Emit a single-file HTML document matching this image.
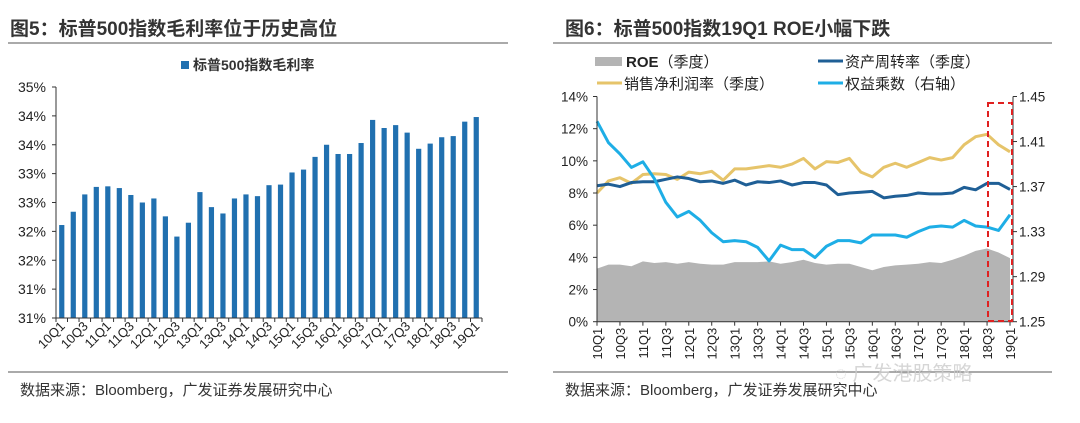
<!DOCTYPE html>
<html><head><meta charset="utf-8">
<style>
html,body{margin:0;padding:0;background:#fff;}
body{width:1080px;height:418px;overflow:hidden;font-family:"Liberation Sans","Noto Sans CJK SC",sans-serif;}
svg text{font-family:"Liberation Sans","Noto Sans CJK SC",sans-serif;}
</style></head>
<body>
<svg id="c" width="1080" height="418" viewBox="0 0 1080 418">
  <text x="10" y="35" font-size="19" font-weight="bold" fill="#333">图5：标普500指数毛利率位于历史高位</text>
  <line x1="8" y1="43" x2="508" y2="43" stroke="#555" stroke-width="1"/>
  <text x="565" y="35" font-size="19" font-weight="bold" fill="#333">图6：标普500指数19Q1 ROE小幅下跌</text>
  <line x1="553" y1="43" x2="1052" y2="43" stroke="#555" stroke-width="1"/>
  <line x1="8" y1="372" x2="508" y2="372" stroke="#555" stroke-width="1"/>
  <line x1="553" y1="372" x2="1052" y2="372" stroke="#555" stroke-width="1"/>
  <text x="20" y="395" font-size="15" fill="#333">数据来源：Bloomberg，广发证券发展研究中心</text>
  <text x="565" y="395" font-size="15" fill="#333">数据来源：Bloomberg，广发证券发展研究中心</text>
  <text x="835" y="380" font-size="20" fill="#ccc" opacity="0.8">◌ 广发港股策略</text>

  <g>
    <rect x="181" y="61" width="8" height="8" fill="#2070b0"/>
    <text x="193" y="70" font-size="14" font-weight="bold" fill="#333">标普500指数毛利率</text>
  </g>
  <g>
    <rect x="595" y="57" width="27" height="9" fill="#b4b4b4"/>
    <text x="626" y="67" font-size="15" fill="#222"><tspan font-weight="bold">ROE</tspan>（季度）</text>
    <line x1="818" y1="61" x2="843" y2="61" stroke="#1f5f96" stroke-width="3"/>
    <text x="845" y="67" font-size="15" fill="#222">资产周转率（季度）</text>
    <line x1="597" y1="83" x2="622" y2="83" stroke="#e6c46a" stroke-width="3"/>
    <text x="624" y="89" font-size="15" fill="#222">销售净利润率（季度）</text>
    <line x1="818" y1="83" x2="843" y2="83" stroke="#1eaee6" stroke-width="3"/>
    <text x="845" y="89" font-size="15" fill="#222">权益乘数（右轴）</text>
  </g>
  <g id="left"></g>
  <g id="right"></g>
</svg>
<script>
const quarters = ["10Q1","10Q2","10Q3","10Q4","11Q1","11Q2","11Q3","11Q4","12Q1","12Q2","12Q3","12Q4","13Q1","13Q2","13Q3","13Q4","14Q1","14Q2","14Q3","14Q4","15Q1","15Q2","15Q3","15Q4","16Q1","16Q2","16Q3","16Q4","17Q1","17Q2","17Q3","17Q4","18Q1","18Q2","18Q3","18Q4","19Q1"];
const grossMargin = [32.61,32.84,33.14,33.27,33.28,33.25,33.13,33.0,33.07,32.76,32.41,32.65,33.18,32.92,32.81,33.07,33.14,33.11,33.30,33.31,33.52,33.57,33.79,34.0,33.84,33.84,34.03,34.43,34.29,34.34,34.21,33.93,34.02,34.13,34.15,34.40,34.48];
const leftTickValues = [31,31.5,32,32.5,33,33.5,34,34.5,35];
const leftTickLabels = ["31%","31%","32%","32%","33%","33%","34%","34%","35%"];
const roe = [3.3,3.55,3.55,3.45,3.75,3.65,3.7,3.6,3.7,3.6,3.55,3.55,3.7,3.7,3.7,3.75,3.6,3.7,3.85,3.65,3.55,3.6,3.6,3.4,3.2,3.4,3.5,3.55,3.6,3.7,3.65,3.85,4.1,4.4,4.55,4.3,3.95];
const netMargin = [8.0,8.75,8.95,8.6,9.15,9.2,9.15,8.85,9.3,9.2,9.35,8.8,9.5,9.5,9.6,9.7,9.6,9.8,10.15,9.5,9.95,9.9,10.15,9.3,9.0,9.6,9.85,9.6,9.9,10.2,10.05,10.2,11.0,11.5,11.65,11.0,10.56];
const assetTurnover = [8.45,8.55,8.4,8.65,8.7,8.7,8.85,9.0,8.9,8.7,8.75,8.6,8.8,8.5,8.7,8.65,8.75,8.5,8.65,8.65,8.5,7.9,8.0,8.05,8.1,7.7,7.8,7.85,8.0,7.95,7.95,8.0,8.35,8.2,8.6,8.6,8.22];
const equityMultiplier = [1.428,1.409,1.399,1.387,1.392,1.377,1.356,1.343,1.348,1.340,1.329,1.321,1.322,1.321,1.316,1.304,1.318,1.314,1.314,1.307,1.317,1.322,1.322,1.320,1.327,1.327,1.327,1.325,1.330,1.334,1.335,1.334,1.340,1.335,1.334,1.331,1.345];
const rightLeftTicks = [0,2,4,6,8,10,12,14];
const rightRightTicks = [1.25,1.29,1.33,1.37,1.41,1.45];

const NS="http://www.w3.org/2000/svg";
function mk(parent,tag,attrs,text){const e=document.createElementNS(NS,tag);for(const k in attrs)e.setAttribute(k,attrs[k]);if(text!==undefined)e.textContent=text;parent.appendChild(e);return e;}

// LEFT CHART
(function(){
  const g=document.getElementById('left');
  const x0=56,x1=482,yTop=87,yBot=318,vMin=31,vMax=35;
  const n=quarters.length,band=(x1-x0)/n;
  const y=v=>yBot-(v-vMin)/(vMax-vMin)*(yBot-yTop);
  const xc=i=>x0+band*(i+0.5);
  leftTickValues.forEach((v,i)=>{
    const t=mk(g,'line',{x1:x0-4,x2:x0,y1:y(v),y2:y(v),stroke:'#333'});
    
    
    const l=mk(g,'text',{x:x0-10,y:y(v)+5,'font-size':14,fill:'#222','text-anchor':'end'},leftTickLabels[i]);
    
    
  });
  grossMargin.forEach((v,i)=>{
    const b=mk(g,'rect',{x:xc(i)-2.6,y:y(v),width:5.2,height:yBot-y(v),fill:'#2070b0'});
    
    
  });
  const ya=mk(g,'line',{x1:x0,x2:x0,y1:yTop,y2:yBot,stroke:'#333'});
  
  
  const xa=mk(g,'line',{x1:x0,x2:x1,y1:yBot,y2:yBot,stroke:'#333'});
  
  
  for(let i=0;i<=n;i++){
    const t=mk(g,'line',{x1:x0+band*i,x2:x0+band*i,y1:yBot,y2:yBot+4,stroke:'#333'});
    
    
  }
  quarters.forEach((q,i)=>{
    if(i%2) return;
    const cx=xc(i)+4,cy=yBot+9;
    const l=mk(g,'text',{x:cx,y:cy,'font-size':13,fill:'#222','text-anchor':'end',transform:`rotate(-45 ${cx} ${cy})`},q);
    
    
  });
})();

// RIGHT CHART
(function(){
  const g=document.getElementById('right');
  const px0=597,px1=1010,yTop=96.5,yBot=321.7,axL=597,axR=1013;
  const n=quarters.length,step=(px1-px0)/(n-1);
  const x=i=>px0+step*i;
  const yl=v=>yBot-(v-0)/14*(yBot-yTop);
  const yr=v=>yBot-(v-1.25)/0.2*(yBot-yTop);
  // ROE area
  let d=`M${x(0)},${yBot}`;
  roe.forEach((v,i)=>{d+=` L${x(i)},${yl(v)}`;});
  d+=` L${x(n-1)},${yBot} Z`;
  const a=mk(g,'path',{d:d,fill:'#b4b4b4'});
  
  
  function line(arr,yf,color,name){
    const p=mk(g,'polyline',{points:arr.map((v,i)=>x(i)+','+yf(v)).join(' '),fill:'none',stroke:color,'stroke-width':3,'stroke-linejoin':'round'});
    
    
  }
  line(netMargin,yl,'#e6c46a','net-margin-line');
  line(assetTurnover,yl,'#1f5f96','asset-turnover-line');
  line(equityMultiplier,yr,'#1eaee6','equity-multiplier-line');
  // axes
  const la=mk(g,'line',{x1:axL,x2:axL,y1:yTop,y2:yBot,stroke:'#333'});
  
  
  const ra=mk(g,'line',{x1:axR,x2:axR,y1:yTop,y2:yBot,stroke:'#333'});
  
  
  const xa=mk(g,'line',{x1:axL,x2:axR,y1:yBot,y2:yBot,stroke:'#333'});
  
  
  rightLeftTicks.forEach(v=>{
    const t=mk(g,'line',{x1:axL-4,x2:axL,y1:yl(v),y2:yl(v),stroke:'#333'});
    
    
    const l=mk(g,'text',{x:axL-9,y:yl(v)+5,'font-size':13.5,fill:'#222','text-anchor':'end'},v+'%');
    
    
  });
  rightRightTicks.forEach(v=>{
    const t=mk(g,'line',{x1:axR,x2:axR+4,y1:yr(v),y2:yr(v),stroke:'#333'});
    
    
    const l=mk(g,'text',{x:axR+6,y:yr(v)+5,'font-size':13.5,fill:'#222'},v.toFixed(2));
    
    
  });
  quarters.forEach((q,i)=>{
    if(i%2) return;
    const t=mk(g,'line',{x1:x(i),x2:x(i),y1:yBot,y2:yBot+4,stroke:'#333'});
    
    
    const cx=x(i)+5,cy=yBot+6;
    const l=mk(g,'text',{x:cx,y:cy,'font-size':13,fill:'#222','text-anchor':'end',transform:`rotate(-90 ${cx} ${cy})`},q);
    
    
  });
  const box=mk(g,'rect',{x:988,y:103,width:24,height:218,fill:'none',stroke:'#e02020','stroke-width':2,'stroke-dasharray':'6,4'});
  
  
})();
</script>
</body></html>
